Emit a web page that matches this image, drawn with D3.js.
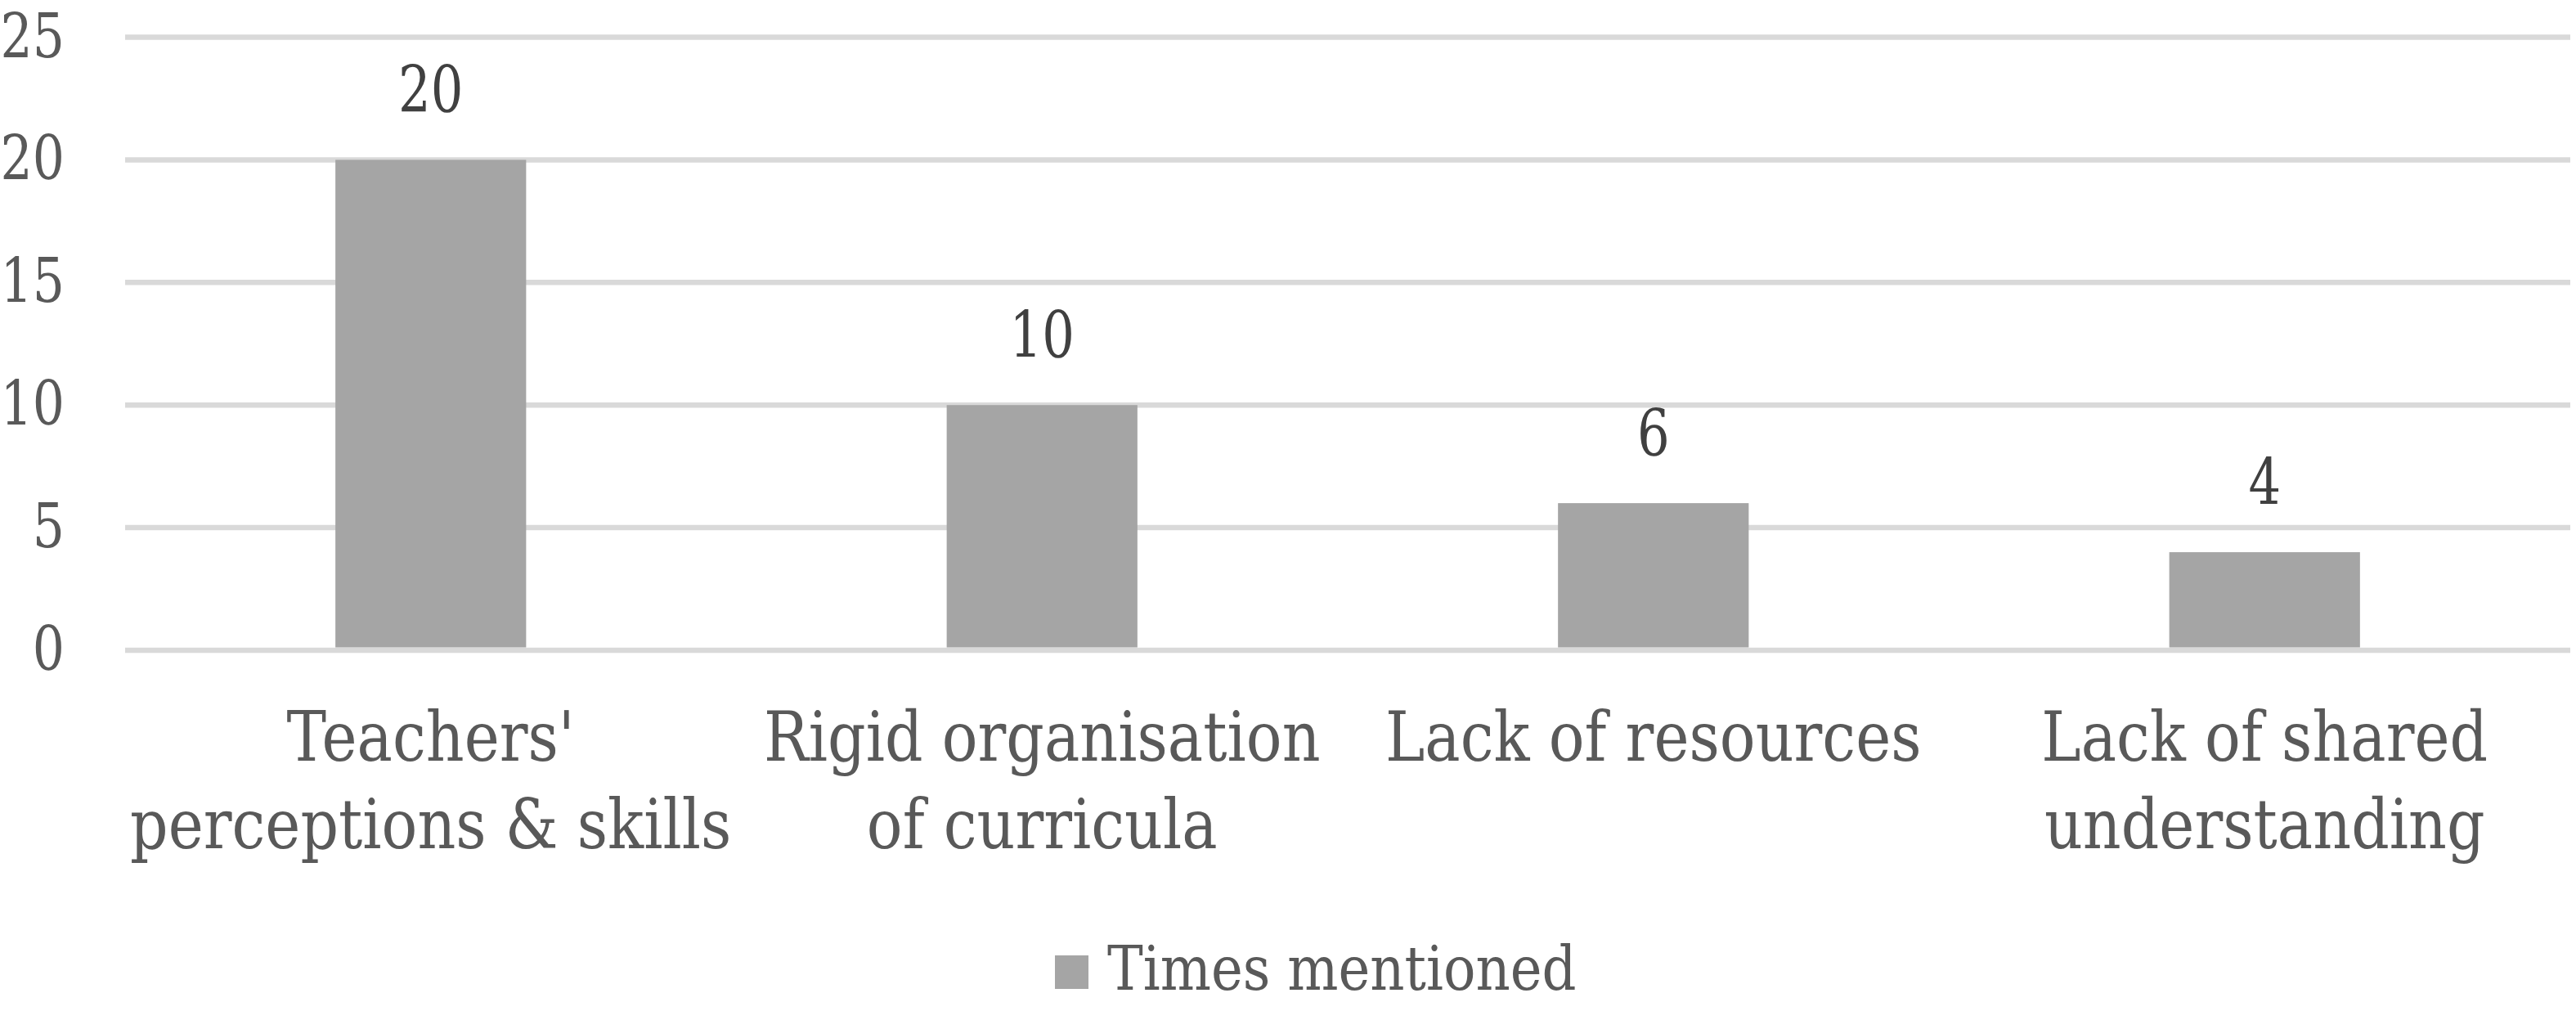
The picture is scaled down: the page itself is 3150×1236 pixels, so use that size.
<!DOCTYPE html>
<html>
<head>
<meta charset="utf-8">
<script src="https://cdn.jsdelivr.net/npm/d3@7"></script>
<style>
  body { margin: 0; background: #fff; }
</style>
</head>
<body>
<div id="chart"></div>
<script>
var categories = [
  ["Teachers'", "perceptions & skills"],
  ["Rigid organisation", "of curricula"],
  ["Lack of resources"],
  ["Lack of shared", "understanding"]
];
var values = [20, 10, 6, 4];
var yTicks = [0, 5, 10, 15, 20, 25];
var seriesName = 'Times mentioned';

var width = 3150, height = 1236;
var svg = d3.select('#chart').append('svg')
  .attr('width', width)
  .attr('height', height)
  .attr('font-family', "'DejaVu Serif', serif");

// DejaVu Serif is the only serif here and it is wider than Times:
// squeeze each text to the width it would have in Times at `timesSize`
function squeeze(sel, timesSize) {
  sel.each(function() {
    var el = this;
    var size = +el.getAttribute('font-size');
    var w = el.getComputedTextLength();
    el.setAttribute('textLength', w * (timesSize / size) * 0.8);
    el.setAttribute('lengthAdjust', 'spacingAndGlyphs');
  });
}

var x = d3.scaleBand()
  .domain(d3.range(categories.length))
  .range([153, 3143])
  .paddingInner(0.688)
  .paddingOuter(0.344);

var y = d3.scaleLinear()
  .domain([0, 25])
  .range([795, 45.5]);

// gridlines
svg.append('g').selectAll('line').data(yTicks)
  .enter().append('line')
  .attr('x1', 153).attr('x2', 3143)
  .attr('y1', function(d) { return y(d); })
  .attr('y2', function(d) { return y(d); })
  .attr('stroke', '#d9d9d9')
  .attr('stroke-width', 6.5);

// y tick labels
svg.append('g').selectAll('text').data(yTicks)
  .enter().append('text')
  .attr('x', 79)
  .attr('y', function(d) { return y(d) + 24; })
  .attr('text-anchor', 'end')
  .attr('font-size', 75)
  .attr('fill', '#595959')
  .text(function(d) { return d; })
  .call(squeeze, 77);

// bars
svg.append('g').selectAll('rect').data(values)
  .enter().append('rect')
  .attr('x', function(d, i) { return x(i); })
  .attr('width', x.bandwidth())
  .attr('y', function(d) { return y(d); })
  .attr('height', function(d) { return y(0) - 3.5 - y(d); })
  .attr('fill', '#a5a5a5');

// data labels
svg.append('g').selectAll('text').data(values)
  .enter().append('text')
  .attr('x', function(d, i) { return x(i) + x.bandwidth() / 2; })
  .attr('y', function(d) { return y(d) - 58; })
  .attr('text-anchor', 'middle')
  .attr('font-size', 78)
  .attr('fill', '#404040')
  .text(function(d) { return d; })
  .call(squeeze, 78);

// category labels, one text per line
var lines = [];
categories.forEach(function(c, i) {
  c.forEach(function(line, j) { lines.push({line: line, i: i, j: j}); });
});
svg.append('g').selectAll('text').data(lines)
  .enter().append('text')
  .attr('x', function(d) { return x(d.i) + x.bandwidth() / 2; })
  .attr('y', function(d) { return 930 + d.j * 107; })
  .attr('text-anchor', 'middle')
  .attr('font-size', 84)
  .attr('fill', '#595959')
  .text(function(d) { return d.line; })
  .call(squeeze, 91);

// legend
var legend = svg.append('g');
legend.append('rect')
  .attr('x', 1290).attr('y', 1168)
  .attr('width', 41).attr('height', 41)
  .attr('fill', '#a5a5a5');
legend.append('text')
  .attr('x', 1354).attr('y', 1210)
  .attr('font-size', 75)
  .attr('fill', '#595959')
  .text(seriesName)
  .call(squeeze, 82);
</script>
</body>
</html>
